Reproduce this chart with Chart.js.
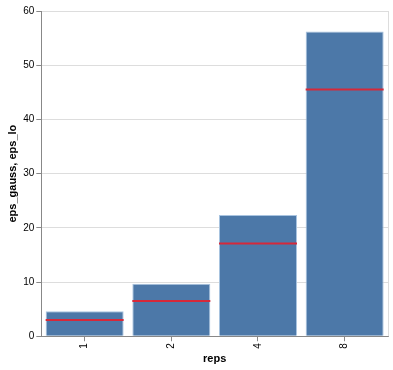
<!DOCTYPE html>
<html>
<head>
<meta charset="utf-8">
<script src="https://cdn.jsdelivr.net/npm/chart.js@4"></script>
<style>
  html, body { margin: 0; padding: 0; background: #fff; }
  #wrap { width: 393px; height: 370px; }
</style>
</head>
<body>
<div id="wrap"><canvas id="chart1"></canvas></div>
<script>
// data
const reps = ['1', '2', '4', '8'];
const epsGauss = [4.6, 9.7, 22.35, 56.2];
const epsLo = [3.0, 6.5, 17.1, 45.5];
const yTicks = [0, 10, 20, 30, 40, 50, 60];

Chart.defaults.font.family = '"Liberation Sans", Arial, sans-serif';
Chart.defaults.color = '#000';

// light border on the right edge of the plot (vega view stroke)
const rightEdge = {
    id: 'rightEdge',
    afterDraw(chart) {
        const a = chart.chartArea, c = chart.ctx;
        c.save();
        c.strokeStyle = '#ddd';
        c.lineWidth = 1;
        c.beginPath();
        c.moveTo(a.right + 0.5, a.top);
        c.lineTo(a.right + 0.5, a.bottom);
        c.stroke();
        c.restore();
    }
};

const ctx1 = document.getElementById('chart1');

new Chart(ctx1, {
    data: {
        labels: reps,
        datasets: [
            {
                type: 'line',
                label: 'eps_lo',
                data: epsLo,
                showLine: false,
                pointStyle: 'line',
                pointRadius: 39,
                pointHoverRadius: 39,
                borderColor: '#d62839',
                borderWidth: 2,
                order: 0
            },
            {
                type: 'bar',
                label: 'eps_gauss',
                data: epsGauss,
                backgroundColor: '#4c78a8',
                borderColor: '#a9c4e0',
                borderWidth: 1,
                categoryPercentage: 1,
                barPercentage: 0.9,
                order: 1
            }
        ]
    },
    plugins: [rightEdge],
    options: {
        responsive: true,
        maintainAspectRatio: false,
        animation: false,
        layout: { autoPadding: false, padding: { top: 11, right: 5, left: 6, bottom: 4 } },
        plugins: {
            legend: { display: false },
            tooltip: { enabled: false }
        },
        scales: {
            x: {
                offset: true,
                grid: {
                    display: true,
                    drawOnChartArea: false,
                    offset: false,
                    tickLength: 5,
                    tickColor: '#888'
                },
                border: { color: '#888' },
                ticks: {
                    minRotation: 90,
                    maxRotation: 90,
                    font: { size: 10 },
                    padding: 2
                },
                title: {
                    display: true,
                    text: 'reps',
                    font: { size: 11, weight: 'bold' },
                    padding: { top: 2, bottom: 0 }
                }
            },
            y: {
                min: 0,
                max: 60,
                afterBuildTicks: (axis) => {
                    axis.ticks = yTicks.map(v => ({ value: v }));
                },
                grid: {
                    color: '#ddd',
                    tickLength: 5,
                    tickColor: '#888'
                },
                border: { color: '#888' },
                ticks: {
                    font: { size: 10 },
                    padding: 2
                },
                title: {
                    display: true,
                    text: 'eps_gauss, eps_lo',
                    font: { size: 11, weight: 'bold' },
                    padding: { top: 0, bottom: 2 }
                }
            }
        }
    }
});
</script>
</body>
</html>
